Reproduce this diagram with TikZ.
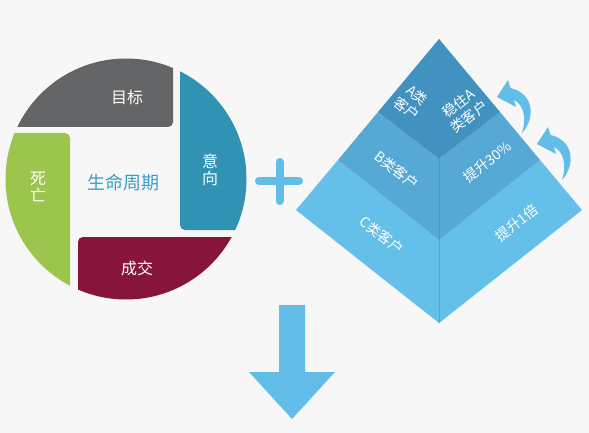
\documentclass[tikz,border=0pt]{standalone}
\usepackage{fontspec}
\setmainfont{Noto Sans CJK SC}
\definecolor{bg}{HTML}{F7F7F7}
\definecolor{cgray}{HTML}{636466}
\definecolor{cteal}{HTML}{3093B4}
\definecolor{cmaroon}{HTML}{87153B}
\definecolor{cgreen}{HTML}{9BC54C}
\definecolor{ctitle}{HTML}{3A9EC4}
\definecolor{pa}{HTML}{4192C0}
\definecolor{pb}{HTML}{55A9D4}
\definecolor{pc}{HTML}{64BFE9}
\definecolor{pline}{HTML}{3E8DBB}
\definecolor{lblue}{HTML}{62BEE8}
\tikzset{
  seglabel/.style={text=white,font=\fontsize{16}{18}\selectfont,inner sep=0pt},
  pylabel/.style={text=white,font=\fontsize{14}{17}\selectfont,inner sep=0pt,align=center},
  seg/.style={rounded corners=5pt},
}
\begin{document}
\begin{tikzpicture}[x=1pt,y=-1pt]
\useasboundingbox (0,0) rectangle (589,433);
\fill[bg] (0,0) rectangle (589,433);
% lifecycle circle
\begin{scope}
  \clip (126,179) circle (120.5);
  \fill[cgray,seg] (-20,20) rectangle (173,127);
  \fill[cteal,seg] (180,20) rectangle (270,230);
  \fill[cmaroon,seg] (78,237) rectangle (270,320);
  \fill[cgreen,seg] (-20,133) rectangle (70,320);
\end{scope}
\node[seglabel] (mubiao) at (127,97) {目标};
\node[seglabel,align=center] (siwang) at (38,187) {死\\[-1pt]亡};
\node[seglabel,align=center] (yixiang) at (210,170) {意\\[-1pt]向};
\node[seglabel] (chengjiao) at (137,268) {成交};
\node[text=ctitle,font=\fontsize{18}{20}\selectfont,inner sep=0pt] (title) at (123,183) {生命周期};
% plus
\draw[lblue,line width=8pt,line cap=round] (259,181) -- (299,181);
\draw[lblue,line width=8pt,line cap=round] (279.5,162) -- (279.5,201);
% pyramid
\coordinate (T) at (439,39);
\coordinate (L) at (296,210);
\coordinate (R) at (582,210);
\coordinate (B) at (439,323);
\coordinate (AL) at (378,112);
\coordinate (AR) at (500,112);
\coordinate (Ac) at (439,159);
\coordinate (BL) at (338,160);
\coordinate (BR) at (540,160);
\coordinate (Bc) at (439,240);
\fill[pc] (BL) -- (L) -- (B) -- (R) -- (BR) -- (Bc) -- cycle;
\fill[pb] (AL) -- (BL) -- (Bc) -- (BR) -- (AR) -- (Ac) -- cycle;
\fill[pa] (T) -- (AL) -- (Ac) -- (AR) -- cycle;
\draw[pline,line width=0.6pt,opacity=0.5] (T) -- (B);
\node[pylabel,rotate=-38] (acl) at (412,102) {A类\\客户};
\node[pylabel,rotate=38] (acr) at (464,110) {稳住A\\类客户};
\node[pylabel,rotate=-38] (bcl) at (397,170) {B类客户};
\node[pylabel,rotate=38] (bcr) at (487,162) {提升30\%};
\node[pylabel,rotate=-38] (ccl) at (382,235) {C类客户};
\node[pylabel,rotate=38] (ccr) at (517,223) {提升1倍};
% curved arrows
\foreach \dx/\dy in {0/0,40/47}{
  \begin{scope}[shift={(\dx,\dy)}]
  \fill[lblue] (508,80) -- (497,97) -- (516,107) -- (514,100)
    .. controls (523,104) and (527,117) .. (522,133)
    .. controls (535,119) and (535,94) .. (510.5,88) -- cycle;
  \end{scope}
}
% down arrow
\fill[lblue] (279,305) -- (305,305) -- (305,372) -- (335,372) -- (292,419) -- (249,372) -- (279,372) -- cycle;
\end{tikzpicture}
\end{document}
